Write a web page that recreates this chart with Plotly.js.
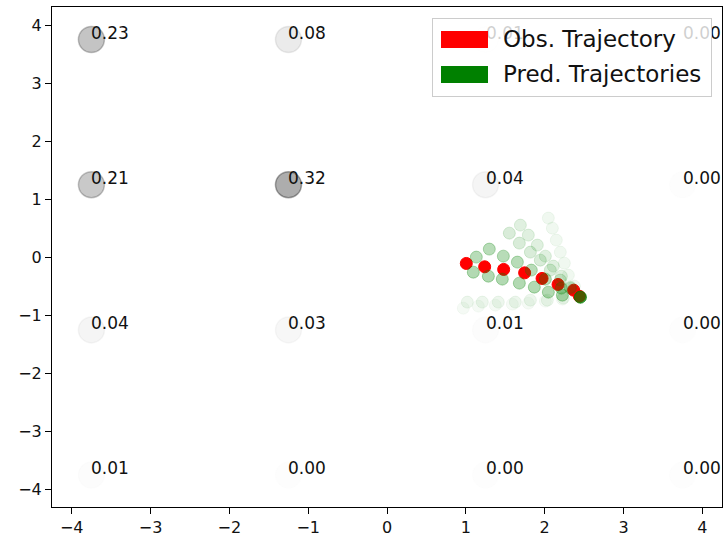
<!DOCTYPE html>
<html>
<head>
<meta charset="utf-8">
<script src="https://cdn.plot.ly/plotly-3.0.1.min.js"></script>
<style>html,body{margin:0;padding:0;background:#fff;}#chart{width:723px;height:538px;}</style>
</head>
<body>
<div id="chart"></div>
<script>
// Grid cells and their probabilities
const gridX = [-3.75, -1.25, 1.25, 3.75];
const gridY = [3.75, 1.25, -1.25, -3.75];
const probs = [
  [0.23, 0.08, 0.01, 0.00],
  [0.21, 0.32, 0.04, 0.00],
  [0.04, 0.03, 0.01, 0.00],
  [0.01, 0.00, 0.00, 0.00]
];

// Observed trajectory
const obsX = [1.006, 1.239, 1.480, 1.746, 1.967, 2.170, 2.368, 2.44];
const obsY = [-0.106, -0.164, -0.209, -0.268, -0.364, -0.468, -0.566, -0.67];

// Predicted trajectories (x, y) and their weights
const predX = [
  [1.095, 1.286, 1.463, 1.679, 1.869, 2.047, 2.225, 2.453],
  [1.133, 1.298, 1.476, 1.654, 1.831, 2.009, 2.212, 2.453],
  [1.552, 1.679, 1.819, 1.945, 2.072, 2.199, 2.326, 2.453],
  [1.692, 1.793, 1.907, 2.009, 2.110, 2.212, 2.326, 2.453],
  [2.047, 2.098, 2.148, 2.199, 2.250, 2.301, 2.377, 2.453],
  [1.019, 1.209, 1.412, 1.628, 1.819, 2.034, 2.237, 2.453],
  [0.968, 1.159, 1.374, 1.590, 1.793, 2.009, 2.225, 2.453]
];
const predY = [
  [-0.256, -0.325, -0.376, -0.445, -0.514, -0.600, -0.652, -0.686],
  [0.003, 0.141, 0.020, -0.083, -0.221, -0.376, -0.531, -0.686],
  [0.416, 0.244, 0.089, -0.049, -0.221, -0.393, -0.531, -0.686],
  [0.554, 0.382, 0.210, 0.020, -0.152, -0.325, -0.514, -0.686],
  [0.675, 0.502, 0.296, 0.089, -0.101, -0.307, -0.497, -0.686],
  [-0.772, -0.772, -0.772, -0.772, -0.738, -0.738, -0.703, -0.686],
  [-0.876, -0.841, -0.824, -0.807, -0.790, -0.755, -0.721, -0.686]
];
const predW = [0.30, 0.28, 0.15, 0.12, 0.06, 0.07, 0.04];

const legendLabels = ["Obs. Trajectory", "Pred. Trajectories"];

const FONT = "DejaVu Sans, sans-serif";
const traces = [];
const annotations = [];

// grid circles
const gx = [], gy = [], gcol = [];
gridY.forEach((y, i) => gridX.forEach((x, j) => {
  const p = probs[i][j];
  gx.push(x); gy.push(y);
  gcol.push('rgba(0,0,0,' + Math.max(p, 0.008) + ')');
  annotations.push({
    x: x, y: y, xref: 'x', yref: 'y', text: p.toFixed(2), showarrow: false,
    xanchor: 'left', yanchor: 'bottom', yshift: -5, xshift: -2,
    font: {family: FONT, size: 17, color: '#111'}
  });
}));
traces.push({
  x: gx, y: gy, mode: 'markers', type: 'scatter', showlegend: false, hoverinfo: 'skip',
  marker: {size: 26, color: gcol, line: {color: gcol, width: 1.5}}
});

// observed trajectory
traces.push({
  x: obsX, y: obsY, mode: 'markers', type: 'scatter', showlegend: false, hoverinfo: 'skip',
  marker: {size: 12, color: 'rgb(255,0,0)', line: {color: 'rgb(255,0,0)', width: 1}}
});

// predicted trajectories
predX.forEach((xs, k) => {
  const c = 'rgba(0,128,0,' + predW[k] + ')';
  traces.push({
    x: xs, y: predY[k], mode: 'markers', type: 'scatter', showlegend: false, hoverinfo: 'skip',
    marker: {size: 12, color: c, line: {color: c, width: 1}}
  });
});

// custom legend (drawn as annotations so it sits over the labels)
const px = v => (v - 52) / 670;
const py = v => (507 - v) / 500;
annotations.push({
  xref: 'paper', yref: 'paper', x: px(432), y: py(18), xanchor: 'left', yanchor: 'top',
  text: ' ', showarrow: false, width: 278, height: 77, borderpad: 0, borderwidth: 1,
  bgcolor: 'rgba(255,255,255,0.8)', bordercolor: '#cccccc'
});
const patchColors = ['rgb(255,0,0)', 'rgb(0,128,0)'];
const patchTop = [31, 66];
const textMid = [39.5, 73.5];
legendLabels.forEach((lab, i) => {
  annotations.push({
    xref: 'paper', yref: 'paper', x: px(441), y: py(patchTop[i]), xanchor: 'left', yanchor: 'top',
    text: ' ', showarrow: false, width: 47, height: 17, borderpad: 0, borderwidth: 0,
    bgcolor: patchColors[i]
  });
  annotations.push({
    xref: 'paper', yref: 'paper', x: px(501), y: py(textMid[i]), xanchor: 'left', yanchor: 'middle',
    text: lab, showarrow: false, font: {family: FONT, size: 23, color: '#111'}
  });
});

const axisCommon = {
  showgrid: false, zeroline: false, showline: true, mirror: true,
  linecolor: '#000', linewidth: 1, ticks: 'outside', ticklen: 6, tickwidth: 1,
  tickcolor: '#000', tickfont: {family: FONT, size: 16, color: '#111'},
  tickvals: [-4, -3, -2, -1, 0, 1, 2, 3, 4]
};

const layout = {
  width: 723, height: 538,
  margin: {l: 52, r: 1, t: 7, b: 31, pad: 0},
  paper_bgcolor: '#fff', plot_bgcolor: '#fff',
  xaxis: Object.assign({range: [-4.25, 4.25]}, axisCommon),
  yaxis: Object.assign({range: [-4.3, 4.31]}, axisCommon),
  annotations: annotations,
  showlegend: false
};

Plotly.newPlot('chart', traces, layout, {displayModeBar: false, staticPlot: true});
</script>
</body>
</html>
